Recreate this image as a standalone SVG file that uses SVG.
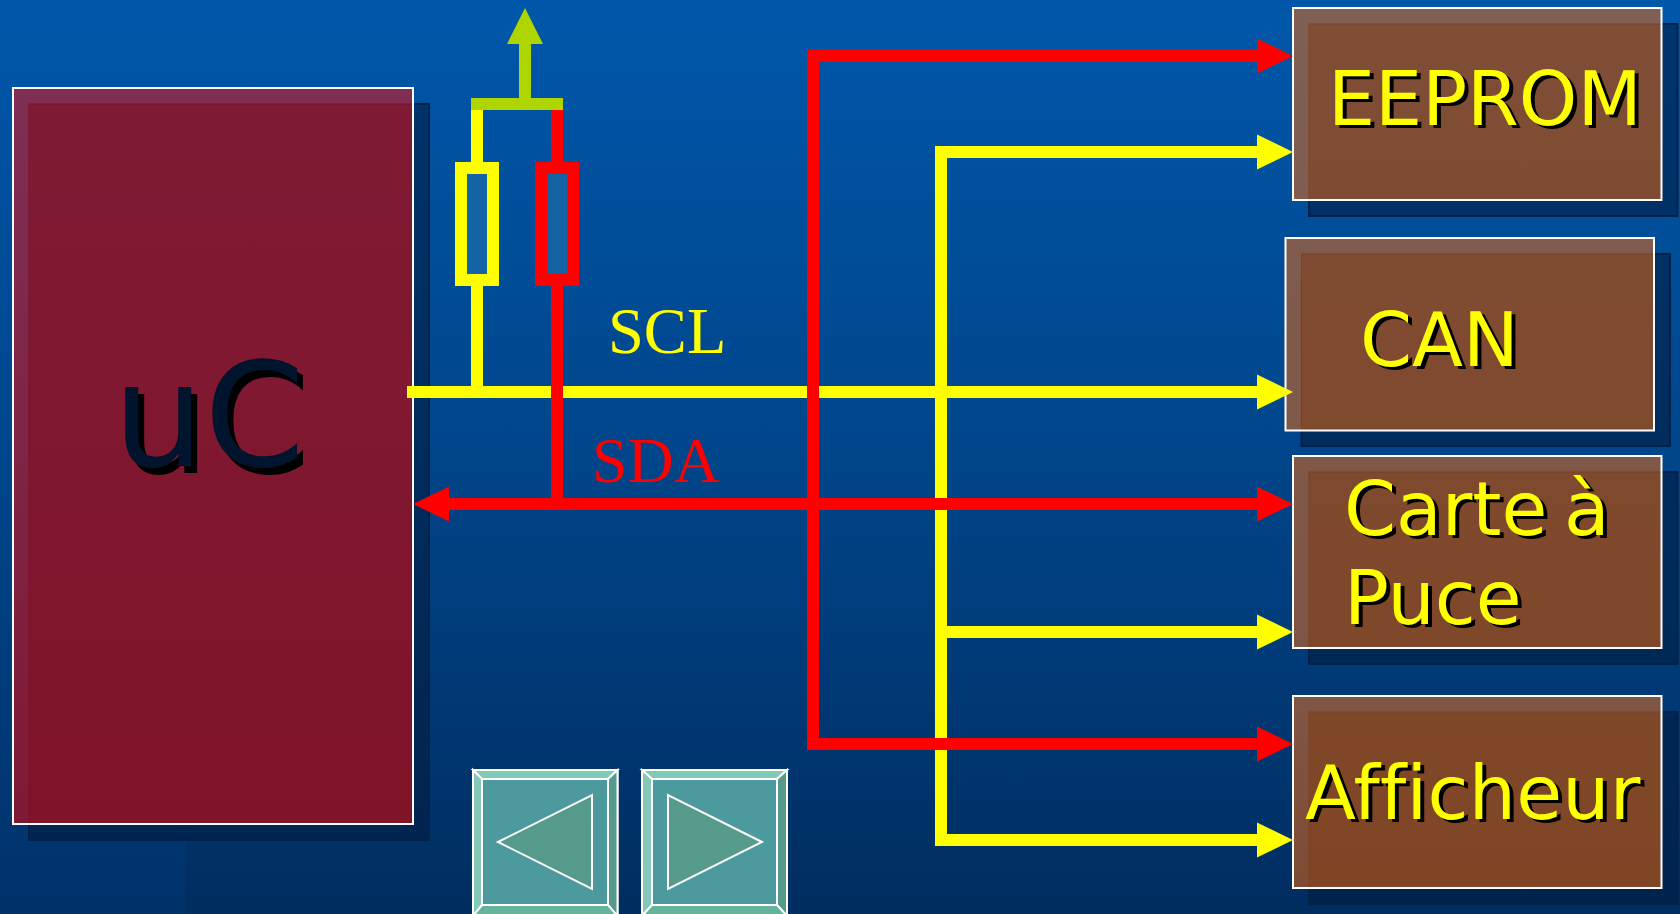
<svg xmlns="http://www.w3.org/2000/svg" width="1680" height="914" viewBox="0 0 1680 914">
<style>
.shadow{fill:url(#sh);stroke:#00224a;stroke-width:2}
.band{fill:url(#band)}
.inner{fill:url(#brown);stroke:#7a4020;stroke-width:1}
.edge{fill:none;stroke:#fff;stroke-width:2}
.lbl{font-family:"DejaVu Sans",sans-serif;font-size:74.5px;fill:#ff0;font-variant-ligatures:none}
.sh{font-family:"DejaVu Sans",sans-serif;font-size:74.5px;fill:#000;font-variant-ligatures:none}
.ser{font-family:"Liberation Serif",serif;font-size:64.5px}
.y{stroke:#ff0;stroke-width:12;fill:none}
.r{stroke:#f00;stroke-width:12;fill:none}
.btn{stroke:#fff;stroke-width:2}
</style>
<defs>
<linearGradient id="bg" x1="0" y1="0" x2="0" y2="1"><stop offset="0" stop-color="#0057aa"/><stop offset=".5" stop-color="#00458a"/><stop offset="1" stop-color="#002d60"/></linearGradient>
<linearGradient id="strip" x1="0" y1="0" x2="0" y2="1"><stop offset="0" stop-color="#0058b0" stop-opacity="0"/><stop offset="1" stop-color="#0058b0" stop-opacity=".12"/></linearGradient>
<linearGradient id="sh" gradientUnits="userSpaceOnUse" x1="0" y1="0" x2="0" y2="914"><stop offset="0" stop-color="#00356e"/><stop offset="1" stop-color="#00234c"/></linearGradient>
<linearGradient id="band" gradientUnits="userSpaceOnUse" x1="0" y1="0" x2="0" y2="914"><stop offset="0" stop-color="#7f6054"/><stop offset=".5" stop-color="#7f5848"/><stop offset=".77" stop-color="#7f5544"/><stop offset="1" stop-color="#7f4a30"/></linearGradient>
<linearGradient id="brown" gradientUnits="userSpaceOnUse" x1="0" y1="0" x2="0" y2="914"><stop offset="0" stop-color="#7f4e37"/><stop offset="1" stop-color="#7f4525"/></linearGradient>
<linearGradient id="uband" gradientUnits="userSpaceOnUse" x1="0" y1="88" x2="0" y2="824"><stop offset="0" stop-color="#7f2e54"/><stop offset="1" stop-color="#7f1a34"/></linearGradient>
<linearGradient id="uin" gradientUnits="userSpaceOnUse" x1="0" y1="88" x2="0" y2="824"><stop offset="0" stop-color="#7f1b35"/><stop offset="1" stop-color="#7f1429"/></linearGradient>
</defs>
<rect width="1680" height="914" fill="url(#bg)"/>
<rect width="186" height="914" fill="url(#strip)"/>
<g id="uC">
<rect class="shadow" x="29" y="104" width="400" height="736"/>
<rect x="13" y="88" width="400" height="736" fill="url(#uband)"/>
<rect x="29" y="104" width="384" height="720" fill="url(#uin)" stroke="#7a1028" stroke-width="1"/>
<rect class="edge" x="13" y="88" width="400" height="736"/>
<text x="119" y="473" font-family="DejaVu Sans,sans-serif" font-size="144" fill="#000">uC</text>
<text x="113" y="466" font-family="DejaVu Sans,sans-serif" font-size="144" fill="#00142e">uC</text>
</g>
<g id="EEPROM">
<rect class="shadow" x="1309" y="24" width="368.5" height="192"/>
<rect class="band" x="1293" y="8" width="368.5" height="192"/>
<rect class="inner" x="1309" y="24" width="352.5" height="176"/>
<rect class="edge" x="1293" y="8" width="368.5" height="192"/>
<text class="sh" x="1332" y="128">EEPROM</text><text class="lbl" x="1328" y="125">EEPROM</text>
</g>
<g id="CAN">
<rect class="shadow" x="1301.5" y="254" width="368.5" height="192"/>
<rect class="band" x="1285.5" y="238" width="368.5" height="192.5"/>
<rect class="inner" x="1301.5" y="254" width="352.5" height="176.5"/>
<rect class="edge" x="1285.5" y="238" width="368.5" height="192.5"/>
<text class="sh" x="1364" y="369">CAN</text><text class="lbl" x="1360" y="366">CAN</text>
</g>
<g id="carte">
<rect class="shadow" x="1309" y="472" width="368.5" height="192"/>
<rect class="band" x="1293" y="456" width="368.5" height="192"/>
<rect class="inner" x="1309" y="472" width="352.5" height="176"/>
<rect class="edge" x="1293" y="456" width="368.5" height="192"/>
<text class="sh" x="1348" y="538" word-spacing="-7">Carte à</text><text class="lbl" x="1344" y="535" word-spacing="-7">Carte à</text>
<text class="sh" x="1348" y="627">Puce</text><text class="lbl" x="1344" y="624">Puce</text>
</g>
<g id="afficheur">
<rect class="shadow" x="1309" y="712" width="368.5" height="192"/>
<rect class="band" x="1293" y="696" width="368.5" height="192"/>
<rect class="inner" x="1309" y="712" width="352.5" height="176"/>
<rect class="edge" x="1293" y="696" width="368.5" height="192"/>
<text class="sh" x="1309" y="822" letter-spacing=".25">Afficheur</text><text class="lbl" x="1305" y="819" letter-spacing=".25">Afficheur</text>
</g>
<g id="connectors">
<path class="y" d="M407 392H1260"/>
<path class="y" d="M1260 152H941V840H1260M941 632H1260"/>
<path class="y" d="M477 104V398"/>
<path class="r" d="M1260 56H813V744H1260"/>
<path class="r" d="M557 104V510"/>
<path class="r" d="M445 504H1260"/>
<polygon fill="#f00" points="1257,38.500 1293,56 1257,73.500"/>
<polygon fill="#f00" points="1257,486.500 1293,504 1257,521.500"/>
<polygon fill="#f00" points="1257,726.500 1293,744 1257,761.500"/>
<polygon fill="#f00" points="449,486.500 413,504 449,521.500"/>
<polygon fill="#ff0" points="1257,134.500 1293,152 1257,169.500"/>
<polygon fill="#ff0" points="1257,374.500 1293,392 1257,409.500"/>
<polygon fill="#ff0" points="1257,614.500 1293,632 1257,649.500"/>
<polygon fill="#ff0" points="1257,822.500 1293,840 1257,857.500"/>
<path d="M525 104V40" stroke="#aed500" stroke-width="12" fill="none"/>
<polygon fill="#aed500" points="507,44 525,8 543,44"/>
<rect x="471" y="98" width="92" height="12" fill="#aed500"/>
</g>
<g id="R1"><rect x="461" y="168" width="32" height="112" fill="#1464a5" stroke="#ff0" stroke-width="12"/></g>
<g id="R2"><rect x="541" y="168" width="32" height="112" fill="#1464a5" stroke="#f00" stroke-width="12"/></g>
<text id="SCL" class="ser" x="608" y="353" fill="#ff0">SCL</text>
<text id="SDA" class="ser" x="592" y="482" fill="#f00" font-size="64" style="font-size:64px">SDA</text>
<g id="btn-prev" class="btn">
<rect x="473" y="770" width="144.500" height="146" fill="#4d9a9e"/>
<polygon points="473,770 617.500,770 608,779 482,779" fill="#7fcbb5"/>
<polygon points="473,770 482,779 482,905 473,916" fill="#85c8b8"/>
<polygon points="617.500,770 608,779 608,905 617.500,916" fill="#559a8a"/>
<polygon points="473,916 482,905 608,905 617.500,916" fill="#66b39b"/>
<polygon points="498,842 592,795 592,889" fill="#559a8a"/>
</g>
<g id="btn-next" class="btn">
<rect x="642" y="770" width="145" height="146" fill="#4d9a9e"/>
<polygon points="642,770 787,770 777,779 652,779" fill="#7fcbb5"/>
<polygon points="642,770 652,779 652,905 642,916" fill="#85c8b8"/>
<polygon points="787,770 777,779 777,905 787,916" fill="#559a8a"/>
<polygon points="642,916 652,905 777,905 787,916" fill="#66b39b"/>
<polygon points="762,842 668,795 668,889" fill="#559a8a"/>
</g>
</svg>
